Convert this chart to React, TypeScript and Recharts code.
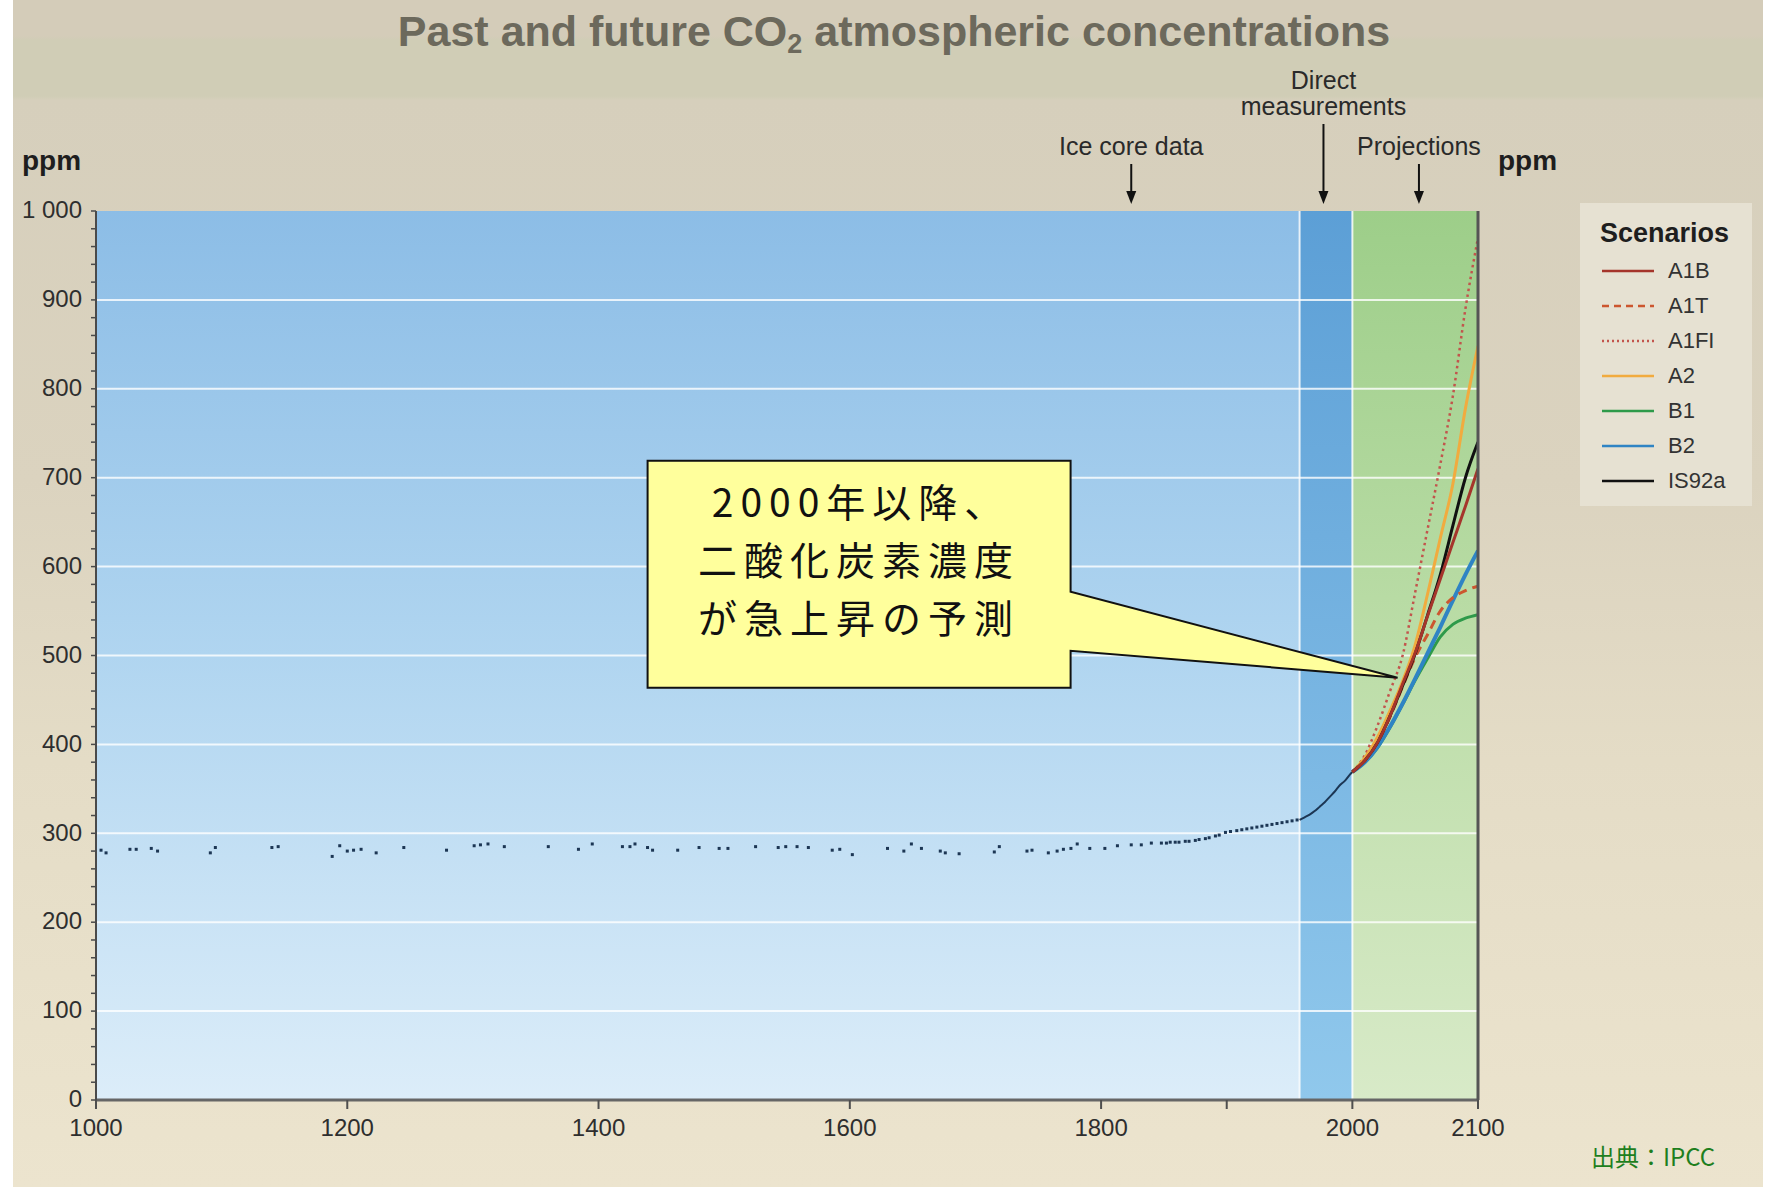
import {
  ComposedChart,
  Line,
  Scatter,
  XAxis,
  YAxis,
  ReferenceArea,
  ReferenceLine,
  ReferenceDot,
} from "recharts";

const FONT = "'Liberation Sans', Arial, sans-serif";
const JP_FONT = "'Noto Sans CJK JP', 'Noto Sans', sans-serif";

// ice core samples
const iceCoreYears = [
  1004, 1008, 1027, 1032, 1044, 1049, 1091, 1095, 1140, 1145, 1188, 1194, 1200, 1205, 1211, 1223,
  1245, 1279, 1301, 1306, 1312, 1325, 1360, 1384, 1395, 1419, 1425, 1429, 1439, 1443, 1463, 1480,
  1496, 1503, 1525, 1543, 1549, 1558, 1567, 1586, 1592, 1602, 1630, 1643, 1649, 1657, 1672, 1676,
  1687, 1715, 1719, 1741, 1745, 1758, 1765, 1770, 1776, 1781, 1791, 1803, 1813, 1824, 1832, 1840,
  1848, 1852, 1855, 1859, 1862, 1867, 1870, 1875, 1878, 1883, 1886, 1891, 1894, 1899, 1903, 1908,
  1912, 1916, 1920, 1924, 1928, 1932, 1936, 1940, 1944, 1948, 1952, 1956,
];
const iceCorePpm = [
  281, 278, 282, 282, 283, 280, 278, 284, 284, 285, 274, 286, 280, 281, 282, 278,
  284, 281, 286, 287, 288, 285, 285, 282, 288, 285, 285, 288, 284, 281, 281, 284,
  283, 283, 285, 284, 285, 285, 284, 281, 282, 276, 283, 280, 288, 283, 280, 278,
  277, 279, 285, 280, 281, 278, 280, 282, 283, 288, 283, 283, 286, 287, 287, 289,
  289, 289, 290, 290, 290, 291, 291, 292, 293, 294, 295, 297, 298, 301, 302, 303,
  304, 305, 306, 307, 308, 309, 310, 311, 312, 313, 314, 315,
];

// direct measurements
const directYears = [1958, 1962, 1966, 1970, 1974, 1978, 1982, 1986, 1990, 1994, 1998, 2000];
const directPpm = [315, 318, 321, 325, 330, 335, 341, 347, 354, 359, 366, 369];

// projections
const projectionYears = [2000, 2010, 2020, 2030, 2040, 2050, 2060, 2070, 2080, 2090, 2100];
const a1b = [369, 382, 402, 432, 468, 503, 545, 586, 627, 668, 710];
const a1t = [369, 382, 402, 431, 465, 498, 524, 550, 565, 573, 578];
const a1fi = [369, 388, 421, 460, 500, 571, 643, 715, 792, 890, 970];
const a2 = [369, 385, 408, 438, 471, 512, 570, 632, 693, 778, 848];
const b1 = [369, 380, 396, 419, 445, 472, 497, 521, 535, 542, 546];
const b2 = [369, 380, 397, 420, 446, 474, 503, 532, 562, 591, 618];
const is92a = [369, 382, 402, 432, 466, 502, 546, 591, 646, 700, 740];

const scenarioNames = ["A1B", "A1T", "A1FI", "A2", "B1", "B2", "IS92a"];
const scenarioValues = [a1b, a1t, a1fi, a2, b1, b2, is92a];
const scenarioColors = ["#a5352b", "#cc562f", "#c2544c", "#f1ab3f", "#2e9a4a", "#2f84c4", "#111111"];
const scenarioDash = ["", "9 6", "2.5 3.5", "", "", "", ""];
const scenarioWidth = [3, 3, 2.5, 3, 3, 4, 3];
const paintOrder = [2, 3, 4, 5, 1, 6, 0];

const yearTicks = [1000, 1200, 1400, 1600, 1800, 1900, 2000, 2100];
const labelledYears = [1000, 1200, 1400, 1600, 1800, 2000, 2100];
const ppmTicks = Array.from({ length: 51 }, (_, i) => i * 20);
const ppmGrid = [100, 200, 300, 400, 500, 600, 700, 800, 900];

const iceCore = iceCoreYears.map((year, i) => ({ year, ppm: iceCorePpm[i] }));
const direct = directYears.map((year, i) => ({ year, ppm: directPpm[i] }));
const scenarios = scenarioNames.map((name, s) => ({
  name,
  color: scenarioColors[s],
  dash: scenarioDash[s],
  width: scenarioWidth[s],
  data: projectionYears.map((year, i) => ({ year, ppm: scenarioValues[s][i] })),
}));

const fmtPpm = (v: number) => (v === 1000 ? "1 000" : String(v));

function LeftTick(props: any) {
  const { x, y, payload } = props;
  const v = payload.value;
  const major = v % 100 === 0;
  return (
    <g>
      <line x1={x} x2={x - 5} y1={y} y2={y} stroke="#4a4a4a" strokeWidth={1.5} />
      {major && (
        <text x={x - 14} y={y} dy="0.3em" textAnchor="end" fontSize={24} fill="#2e2e2e" fontFamily={FONT}>
          {fmtPpm(v)}
        </text>
      )}
    </g>
  );
}

function RightTick(props: any) {
  const { x, y, payload } = props;
  const v = payload.value;
  const major = v % 100 === 0;
  return (
    <g>
      <line x1={x} x2={x + (major ? 10 : 6)} y1={y} y2={y} stroke="#4f4f4f" strokeWidth={2} />
      {major && (
        <text x={x + 28} y={y} dy="0.35em" textAnchor="start" fontSize={24} fill="#2e2e2e" fontFamily={FONT}>
          {fmtPpm(v)}
        </text>
      )}
    </g>
  );
}

function BottomTick(props: any) {
  const { x, y, payload } = props;
  const v = payload.value;
  return (
    <g>
      <line x1={x} x2={x} y1={y} y2={y + 9} stroke="#4f4f4f" strokeWidth={2} />
      {labelledYears.includes(v) && (
        <text x={x} y={y + 28} dy="0.35em" textAnchor="middle" fontSize={24} fill="#2e2e2e" fontFamily={FONT}>
          {v}
        </text>
      )}
    </g>
  );
}

function Pointer(lines: string[], arrowLen: number) {
  return (props: any) => {
    const { cx, cy } = props;
    const top = cy - arrowLen;
    return (
      <g>
        <line x1={cx} x2={cx} y1={top} y2={cy - 18} stroke="#111" strokeWidth={2} />
        <polygon points={`${cx - 5},${cy - 20} ${cx + 5},${cy - 20} ${cx},${cy - 7}`} fill="#111" />
        <text textAnchor="middle" fontSize={25} fill="#2a2a2a" fontFamily={FONT}>
          {lines.map((t, i) => (
            <tspan key={t} x={cx} y={top - 9 - (lines.length - 1 - i) * 26}>
              {t}
            </tspan>
          ))}
        </text>
      </g>
    );
  };
}

function Callout(props: any) {
  const { cx, cy } = props;
  const l = cx - 750;
  const r = cx - 327;
  const t = cy - 217;
  const b = cy + 10;
  const pts = [
    [l, t], [r, t], [r, cy - 86], [cx, cy], [r, cy - 27], [r, b], [l, b],
  ].map((p) => p.join(",")).join(" ");
  const mid = (l + r) / 2;
  const lines = ["2000年以降、", "二酸化炭素濃度", "が急上昇の予測"];
  return (
    <g>
      <polygon points={pts} fill="#ffff9c" stroke="#111" strokeWidth={2} />
      {lines.map((s, i) => (
        <text
          key={s}
          x={mid + (i === 0 ? 2 : 0)}
          y={cy - 176 + i * 58 + 15}
          textAnchor="middle"
          fontSize={39}
          letterSpacing={7}
          fontWeight={400}
          fill="#111"
          fontFamily={JP_FONT}
        >
          {s}
        </text>
      ))}
    </g>
  );
}

const iceCorePointer = Pointer(["Ice core data"], 47);
const directPointer = Pointer(["Direct", "measurements"], 87);
const projectionPointer = Pointer(["Projections"], 47);

export default function App() {
  return (
    <div style={{ position: "absolute", left: 0, top: 0, width: 1772, height: 1189, background: "#ffffff", overflow: "hidden" }}>
      <div
        style={{
          position: "absolute",
          left: 13,
          top: 0,
          width: 1750,
          height: 1187,
          background:
            "linear-gradient(to bottom, #d4ccb9 0px, #d4ccb9 36px, #d0cdb6 40px, #d0cdb6 96px, #d6cfbc 100px, #dbd3bf 480px, #e4dcc6 760px, #ece4ce 1187px)",
        }}
      />
      <div style={{ position: "absolute", left: 0, top: 0 }}>
        <ComposedChart width={1772} height={1189} margin={{ top: 211, right: 254, bottom: 49, left: 56 }}>
          <defs>
            <linearGradient id="iceBg" x1="0" y1="0" x2="0" y2="1">
              <stop offset="0%" stopColor="#8cbde6" />
              <stop offset="50%" stopColor="#b0d5f0" />
              <stop offset="100%" stopColor="#dcedf9" />
            </linearGradient>
            <linearGradient id="directBg" x1="0" y1="0" x2="0" y2="1">
              <stop offset="0%" stopColor="#5c9fd6" />
              <stop offset="100%" stopColor="#90c8ec" />
            </linearGradient>
            <linearGradient id="projBg" x1="0" y1="0" x2="0" y2="1">
              <stop offset="0%" stopColor="#9dce89" />
              <stop offset="50%" stopColor="#bcdda8" />
              <stop offset="100%" stopColor="#d8eac8" />
            </linearGradient>
          </defs>
          <XAxis
            dataKey="year"
            type="number"
            domain={[1000, 2100]}
            ticks={yearTicks}
            interval={0}
            height={40}
            tickSize={0}
            tickMargin={0}
            tickLine={false}
            axisLine={{ stroke: "#666", strokeWidth: 3 }}
            tick={<BottomTick />}
            allowDataOverflow
          />
          <YAxis
            yAxisId="l"
            orientation="left"
            type="number"
            domain={[0, 1000]}
            ticks={ppmTicks}
            interval={0}
            width={40}
            tickSize={0}
            tickMargin={0}
            tickLine={false}
            axisLine={{ stroke: "#4a4a4a", strokeWidth: 2 }}
            tick={<LeftTick />}
          />
          <YAxis
            yAxisId="r"
            orientation="right"
            type="number"
            domain={[0, 1000]}
            ticks={ppmTicks}
            interval={0}
            width={40}
            tickSize={0}
            tickMargin={0}
            tickLine={false}
            axisLine={{ stroke: "#555", strokeWidth: 3 }}
            tick={<RightTick />}
          />
          <ReferenceArea yAxisId="l" x1={1000} x2={1958} y1={0} y2={1000} fill="url(#iceBg)" fillOpacity={1} stroke="none" />
          <ReferenceArea yAxisId="l" x1={1958} x2={2000} y1={0} y2={1000} fill="url(#directBg)" fillOpacity={1} stroke="none" />
          <ReferenceArea yAxisId="l" x1={2000} x2={2100} y1={0} y2={1000} fill="url(#projBg)" fillOpacity={1} stroke="none" />
          {ppmGrid.map((v) => (
            <ReferenceLine key={v} yAxisId="l" y={v} stroke="#ffffff" strokeOpacity={0.8} strokeWidth={2} />
          ))}
          <ReferenceLine yAxisId="l" x={1958} stroke="#ffffff" strokeOpacity={0.8} strokeWidth={2} />
          <ReferenceLine yAxisId="l" x={2000} stroke="#ffffff" strokeOpacity={0.8} strokeWidth={2} />
          <Scatter
            yAxisId="l"
            data={iceCore}
            dataKey="ppm"
            fill="#1c3654"
            shape={(p: any) => <rect x={p.cx - 1.5} y={p.cy - 1.5} width={3} height={3} fill="#1c3654" />}
            isAnimationActive={false}
          />
          <Line
            yAxisId="l"
            data={direct}
            dataKey="ppm"
            type="monotone"
            stroke="#1c3654"
            strokeWidth={2}
            dot={false}
            isAnimationActive={false}
          />
          {paintOrder.map((s) => (
            <Line
              key={scenarios[s].name}
              yAxisId="l"
              data={scenarios[s].data}
              dataKey="ppm"
              name={scenarios[s].name}
              type="monotone"
              stroke={scenarios[s].color}
              strokeWidth={scenarios[s].width}
              strokeDasharray={scenarios[s].dash || undefined}
              dot={false}
              isAnimationActive={false}
            />
          ))}
          <ReferenceDot yAxisId="l" x={1824} y={1000} r={0} shape={iceCorePointer} ifOverflow="visible" />
          <ReferenceDot yAxisId="l" x={1977} y={1000} r={0} shape={directPointer} ifOverflow="visible" />
          <ReferenceDot yAxisId="l" x={2053} y={1000} r={0} shape={projectionPointer} ifOverflow="visible" />
          <ReferenceDot yAxisId="l" x={2036} y={475} r={0} shape={Callout} ifOverflow="visible" />
        </ComposedChart>
      </div>

      <div
        style={{
          position: "absolute",
          left: 294,
          top: 9,
          width: 1200,
          textAlign: "center",
          fontFamily: FONT,
          fontWeight: 700,
          fontSize: 43,
          lineHeight: "44px",
          color: "#6c695c",
          whiteSpace: "nowrap",
        }}
      >
        Past and future CO<sub style={{ fontSize: 27, verticalAlign: "-7px", lineHeight: 0 }}>2</sub> atmospheric concentrations
      </div>

      <div style={{ position: "absolute", left: 22, top: 145, fontFamily: FONT, fontWeight: 700, fontSize: 28, color: "#1e1e1e" }}>ppm</div>
      <div style={{ position: "absolute", left: 1498, top: 145, fontFamily: FONT, fontWeight: 700, fontSize: 28, color: "#1e1e1e" }}>ppm</div>

      <div
        style={{
          position: "absolute",
          left: 1580,
          top: 203,
          width: 172,
          height: 303,
          background: "#e6e1d2",
          fontFamily: FONT,
        }}
      >
        <div style={{ position: "absolute", left: 20, top: 15, fontWeight: 700, fontSize: 27, color: "#1e1e1e" }}>Scenarios</div>
        {scenarios.map((s, i) => (
          <div key={s.name} style={{ position: "absolute", left: 22, top: 55 + i * 35, height: 26, display: "flex", alignItems: "center" }}>
            <svg width={52} height={6}>
              <line x1={0} x2={52} y1={3} y2={3} stroke={s.color} strokeWidth={2.5} strokeDasharray={s.dash ? (s.dash === "9 6" ? "7 5" : "2 3") : undefined} />
            </svg>
            <span style={{ marginLeft: 14, fontSize: 22, color: "#333" }}>{s.name}</span>
          </div>
        ))}
      </div>

      <div style={{ position: "absolute", left: 1591, top: 1138, fontFamily: JP_FONT, fontSize: 24, color: "#1e7f1e" }}>
        出典：IPCC
      </div>
    </div>
  );
}
